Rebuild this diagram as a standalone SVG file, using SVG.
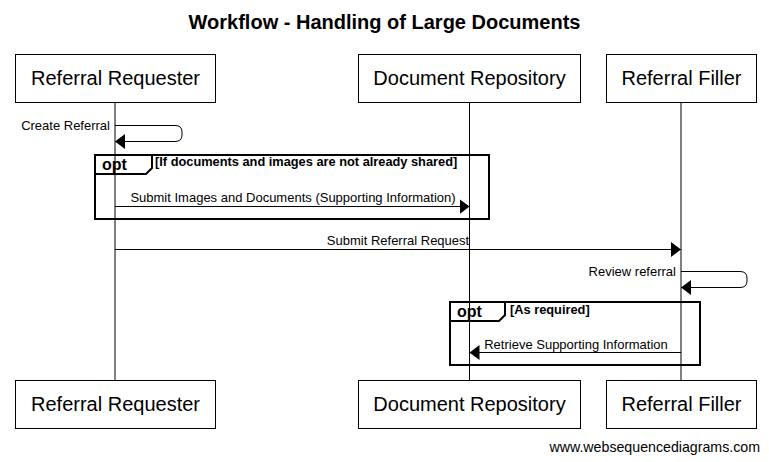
<svg xmlns="http://www.w3.org/2000/svg" width="769" height="462" viewBox="0 0 769 462">
<defs>
<style>
.box{fill:#fff;stroke:#000;stroke-width:1}
.life{stroke:#000;stroke-width:1;fill:none}
.msg{stroke:#000;stroke-width:1;fill:none}
.frame{stroke:#000;stroke-width:2;fill:none}
.ptxt{font-family:"Liberation Sans",Arial,sans-serif;font-size:20px;fill:#000;text-anchor:middle}
.mtxt{font-family:"Liberation Sans",Arial,sans-serif;font-size:13px;fill:#000}
.btxt{font-family:"Liberation Sans",Arial,sans-serif;font-weight:bold;fill:#000}
</style>
<marker id="ah" markerWidth="10" markerHeight="15" refX="10" refY="7.5" orient="auto" markerUnits="userSpaceOnUse">
<path d="M0,0 L10,7.5 L0,15 Z" fill="#000"/>
</marker>
</defs>
<rect width="769" height="462" fill="#fff"/>
<text x="384.5" y="29" class="btxt" font-size="20" text-anchor="middle">Workflow - Handling of Large Documents</text>

<g id="lifelines">
<line class="life" x1="115" y1="102" x2="115" y2="380"/>
<line class="life" x1="469.5" y1="102" x2="469.5" y2="380"/>
<line class="life" x1="681" y1="102" x2="681" y2="380"/>
</g>

<g id="p-requester">
<rect class="box" x="15.5" y="54.5" width="200" height="48"/>
<text class="ptxt" x="115.5" y="85">Referral Requester</text>
</g>
<g id="p-repository">
<rect class="box" x="358.5" y="54.5" width="222" height="48"/>
<text class="ptxt" x="469.5" y="85">Document Repository</text>
</g>
<g id="p-filler">
<rect class="box" x="606.5" y="54.5" width="150" height="48"/>
<text class="ptxt" x="681.5" y="85">Referral Filler</text>
</g>
<g id="p-requester-bottom">
<rect class="box" x="15.5" y="380.5" width="200" height="48"/>
<text class="ptxt" x="115.5" y="411">Referral Requester</text>
</g>
<g id="p-repository-bottom">
<rect class="box" x="358.5" y="380.5" width="222" height="48"/>
<text class="ptxt" x="469.5" y="411">Document Repository</text>
</g>
<g id="p-filler-bottom">
<rect class="box" x="606.5" y="380.5" width="150" height="48"/>
<text class="ptxt" x="681.5" y="411">Referral Filler</text>
</g>

<g id="frames">
<g id="opt1">
<rect class="frame" x="95" y="155" width="394" height="64"/>
<path class="frame" d="M95,174 L146,174 L152,168 L152,155" stroke-width="1.5"/>
<text class="btxt" x="102" y="170" font-size="16">opt</text>
<text class="btxt" x="155" y="166" font-size="12.8">[If documents and images are not already shared]</text>
</g>
<g id="opt2">
<rect class="frame" x="450" y="302" width="250" height="63"/>
<path class="frame" d="M450,321 L499,321 L505,315 L505,302" stroke-width="1.5"/>
<text class="btxt" x="457" y="317" font-size="16">opt</text>
<text class="btxt" x="510" y="314" font-size="12.8">[As required]</text>
</g>
</g>

<g id="connectors">
<path class="msg" d="M115,125.5 L175,125.5 Q182,125.5 182,132 L182,135 Q182,141.5 175,141.5 L115,141.5" marker-end="url(#ah)"/>
<text class="mtxt" x="110" y="130" text-anchor="end">Create Referral</text>
<line class="msg" x1="115" y1="206.5" x2="469.5" y2="206.5" marker-end="url(#ah)"/>
<text class="mtxt" x="293" y="202" text-anchor="middle">Submit Images and Documents (Supporting Information)</text>
<line class="msg" x1="115" y1="249.5" x2="681" y2="249.5" marker-end="url(#ah)"/>
<text class="mtxt" x="398" y="245" text-anchor="middle">Submit Referral Request</text>
<path class="msg" d="M681,271.5 L740,271.5 Q747,271.5 747,278 L747,281 Q747,287.5 740,287.5 L681,287.5" marker-end="url(#ah)"/>
<text class="mtxt" x="676" y="276" text-anchor="end">Review referral</text>
<line class="msg" x1="681" y1="352.5" x2="469.5" y2="352.5" marker-end="url(#ah)"/>
<text class="mtxt" x="576" y="349" text-anchor="middle">Retrieve Supporting Information</text>
</g>

<text x="760" y="452" font-family="Liberation Sans,Arial,sans-serif" font-size="14.2" text-anchor="end" fill="#000">www.websequencediagrams.com</text>
</svg>
